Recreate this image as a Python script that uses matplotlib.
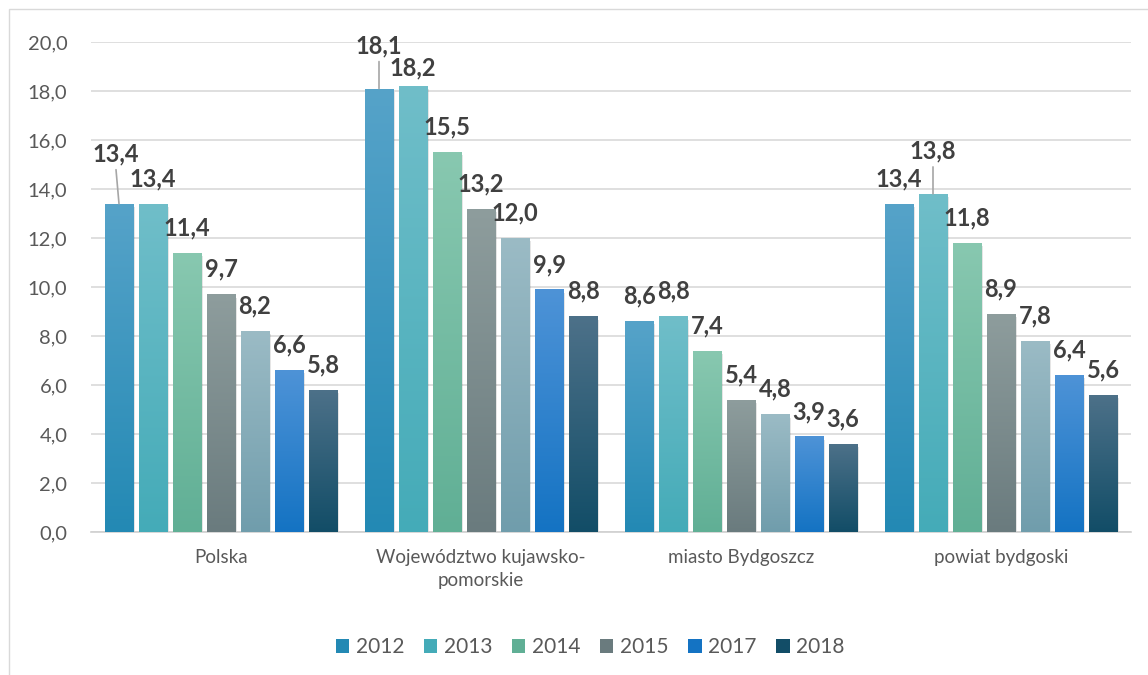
import numpy as np
import matplotlib
matplotlib.use('Agg')
import matplotlib.pyplot as plt
from matplotlib.colors import LinearSegmentedColormap
from matplotlib.patches import Rectangle

plt.rcParams['font.family'] = ['Lato', 'DejaVu Sans']

# Data
categories = ['Polska', 'Województwo kujawsko-\npomorskie', 'miasto Bydgoszcz', 'powiat bydgoski']
years = ['2012', '2013', '2014', '2015', '2016', '2017', '2018']
values = {
    '2012': [13.4, 18.1, 8.6, 13.4],
    '2013': [13.4, 18.2, 8.8, 13.8],
    '2014': [11.4, 15.5, 7.4, 11.8],
    '2015': [9.7, 13.2, 5.4, 8.9],
    '2016': [8.2, 12.0, 4.8, 7.8],
    '2017': [6.6, 9.9, 3.9, 6.4],
    '2018': [5.8, 8.8, 3.6, 5.6],
}
legend_years = ['2012', '2013', '2014', '2015', '2017', '2018']

# gradient colours (top, bottom)
colors = {
    '2012': ('#56a3c9', '#2389b4'),
    '2013': ('#70bec9', '#44abb8'),
    '2014': ('#88c8b0', '#60af95'),
    '2015': ('#8e9d9d', '#6a7b7e'),
    '2016': ('#9bbbc5', '#709dac'),
    '2017': ('#4e93d7', '#1473c3'),
    '2018': ('#4d7189', '#124d67'),
}

fig = plt.figure(figsize=(11.48, 6.75), dpi=100)
ax = fig.add_axes([91/1148, 143/675, 1040/1148, 490/675])

# outer chart border
fig.patches.append(Rectangle((9/1148, -0.1), 1.2, 1.1 - 9/675, transform=fig.transFigure,
                             fill=False, edgecolor='#d9d9d9', linewidth=1.0))

x = np.arange(len(categories)) + 0.5
pitch = 34 / 260
width = 28.5 / 260
grad = np.linspace(1, 0, 256).reshape(-1, 1)

px = 0.72  # points per pixel

for i, yr in enumerate(years):
    xs = x + (i - 3) * pitch
    cmap = LinearSegmentedColormap.from_list(yr, [colors[yr][1], colors[yr][0]])
    # soft shadow
    ax.bar(xs + 0.006, np.array(values[yr]) - 0.08, width=width, bottom=-0.05,
           color='#000000', alpha=0.10, zorder=2, linewidth=0)
    bars = ax.bar(xs, values[yr], width=width, color=colors[yr][1], zorder=3, linewidth=0)
    for b, v in zip(bars, values[yr]):
        im = ax.imshow(grad, cmap=cmap, aspect='auto', zorder=3.5,
                       extent=[b.get_x(), b.get_x() + b.get_width(), 0, v])
        im.set_clip_path(b)
    for j, (xc, v) in enumerate(zip(xs, values[yr])):
        dx, dy = 0, 25
        leader = False
        if yr == '2012' and j == 0:
            dx, dy, leader = -3, 50, True
        elif yr == '2012' and j == 1:
            dy, leader = 43, True
        elif yr == '2013' and j == 3:
            dy, leader = 43, True
        elif yr == '2013' and j == 1:
            dy = 18
        label = f'{v:.1f}'.replace('.', ',')
        ax.annotate(label, (xc, v), xytext=(dx * px, dy * px), textcoords='offset points',
                    ha='center', va='center', fontsize=17, fontweight='bold',
                    color='#404040', zorder=5, annotation_clip=False)
        if leader:
            ax.annotate('', (xc, v), xytext=(dx * px, (dy - 16) * px), textcoords='offset points',
                        arrowprops=dict(arrowstyle='-', color='#a6a6a6', lw=1.2,
                                        shrinkA=0, shrinkB=0), zorder=4)

ax.set_xlim(0, len(categories))
ax.set_ylim(0, 20)
ax.set_yticks(np.arange(0, 20.1, 2))
ax.set_yticklabels([f'{t:.1f}'.replace('.', ',') for t in np.arange(0, 20.1, 2)])
ax.set_xticks(x)
ax.set_xticklabels(categories, linespacing=1.45)
ax.tick_params(axis='both', length=0, colors='#595959')
ax.tick_params(axis='y', pad=17, labelsize=14.5)
ax.tick_params(axis='x', pad=12, labelsize=13.5)
ax.yaxis.grid(True, color='#d9d9d9', linewidth=1.2, zorder=0)
ax.set_axisbelow(True)
for s in ['top', 'right', 'left']:
    ax.spines[s].set_visible(False)
ax.spines['bottom'].set_color('#d0d0d0')
ax.spines['bottom'].set_linewidth(1.2)

handles = [Rectangle((0, 0), 1, 1, facecolor=colors[yr][1]) for yr in legend_years]
fig.legend(handles, legend_years, loc='center', bbox_to_anchor=(590/1148, 1 - 647/675),
           ncol=len(legend_years), frameon=False, fontsize=15, labelcolor='#595959',
           handlelength=0.65, handleheight=0.65, handletextpad=0.3, columnspacing=0.95)

fig.savefig('out.png', dpi=100)
